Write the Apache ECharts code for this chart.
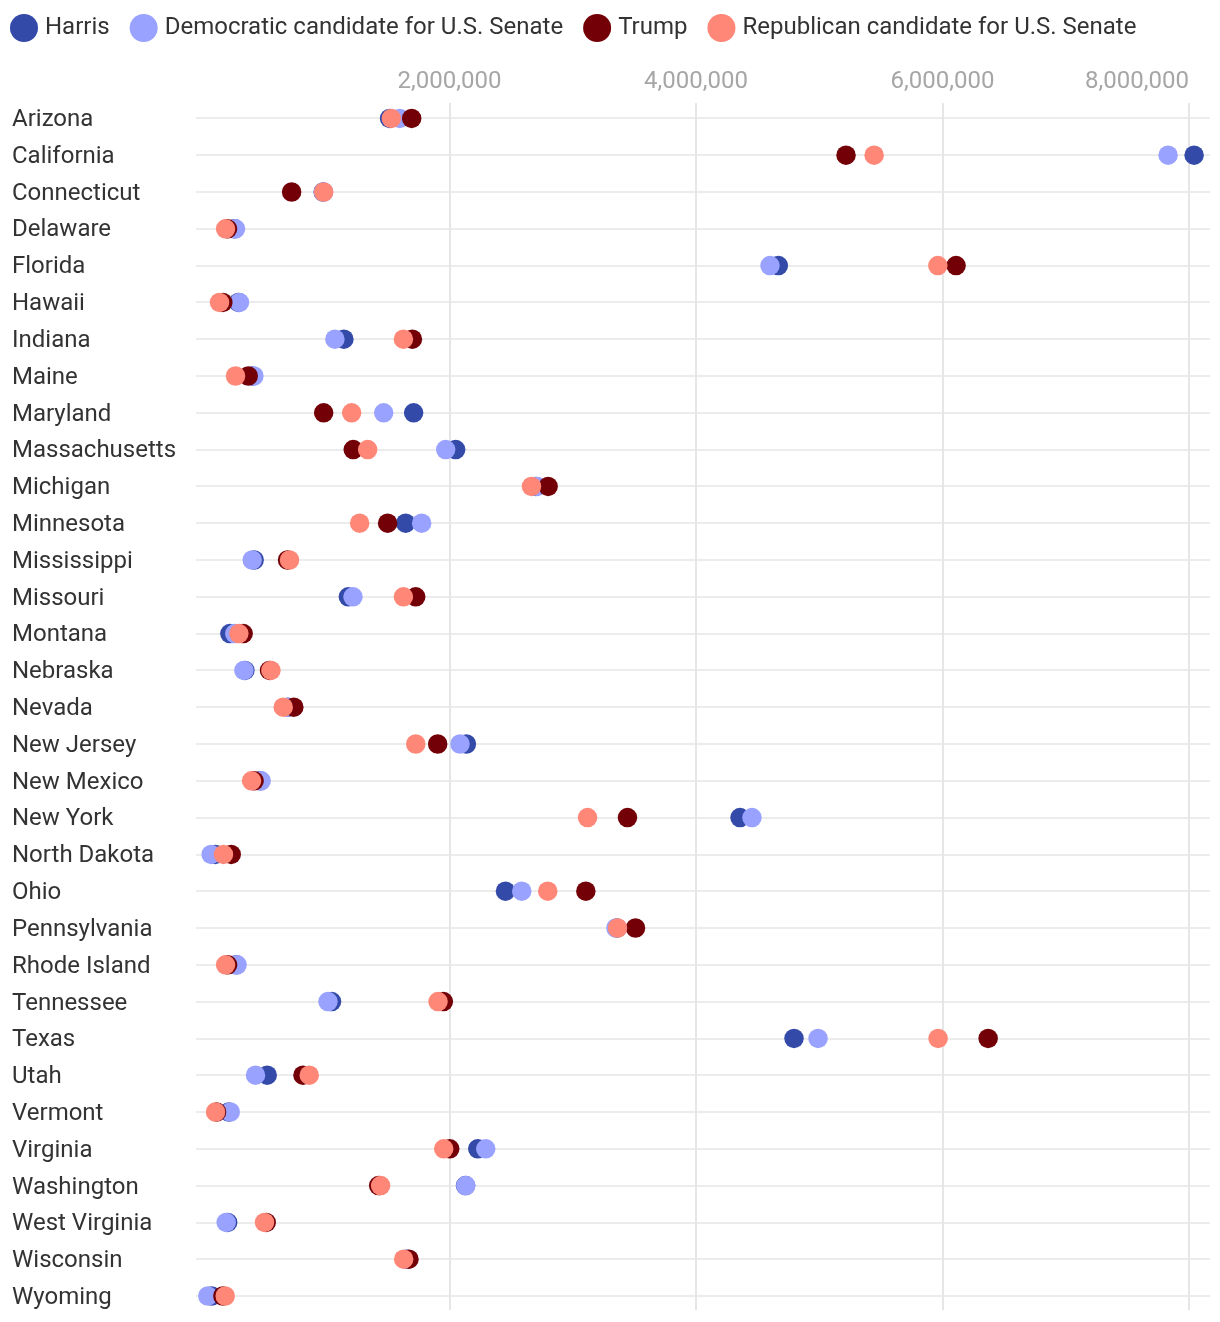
<!DOCTYPE html>
<html>
<head>
<meta charset="utf-8">
<script src="https://cdn.jsdelivr.net/npm/echarts@6/dist/echarts.min.js"></script>
<style>
html,body{margin:0;padding:0;background:#fff;}
#chart{width:1220px;height:1322px;}
</style>
</head>
<body>
<div id="chart"></div>
<script>
const states = ["Arizona","California","Connecticut","Delaware","Florida","Hawaii","Indiana","Maine","Maryland","Massachusetts","Michigan","Minnesota","Mississippi","Missouri","Montana","Nebraska","Nevada","New Jersey","New Mexico","New York","North Dakota","Ohio","Pennsylvania","Rhode Island","Tennessee","Texas","Utah","Vermont","Virginia","Washington","West Virginia","Wisconsin","Wyoming"];

const harris = [1514000,8041000,975000,256000,4668000,288000,1143000,400000,1709000,2050000,2700000,1644000,415000,1179000,218000,340000,690000,2137000,465000,4357000,100000,2454000,3360000,270000,1043000,4795000,521000,210000,2229000,2130000,200000,1650000,70000];
const demSenate = [1596000,7830000,978000,264000,4600000,296000,1070000,413000,1466000,1969000,2711000,1774000,399000,1217000,258000,332000,685000,2085000,472000,4454000,66000,2586000,3350000,277000,1014000,4990000,426000,221000,2294000,2132000,188000,1655000,39000];
const trump = [1693000,5217000,719000,199000,6110000,161000,1699000,367000,979000,1219000,2800000,1498000,686000,1726000,326000,540000,737000,1904000,415000,3444000,229000,3106000,3509000,200000,1950000,6370000,811000,110000,2002000,1425000,513000,1671000,161000];
const repSenate = [1528000,5445000,979000,183000,5962000,134000,1626000,264000,1206000,1336000,2665000,1271000,702000,1626000,291000,551000,651000,1726000,394000,3120000,166000,2797000,3363000,183000,1907000,5964000,862000,102000,1953000,1441000,499000,1628000,180000];

const seriesNames = ["Harris","Democratic candidate for U.S. Senate","Trump","Republican candidate for U.S. Senate"];
const seriesColors = ["#334aa9","#9aa2ff","#720006","#fe8777"];
const xTickInterval = 2000000;
const xMax = 8170000;
const lastTick = 8000000;

const chart = echarts.init(document.getElementById('chart'));
const font = 'Roboto';
const values = [harris, demSenate, trump, repSenate];

const option = {
  animation: false,
  backgroundColor: '#fff',
  textStyle: {fontFamily: font},
  legend: {
    left: 5, top: 9,
    icon: 'circle',
    itemWidth: 28, itemHeight: 28,
    itemGap: 20,
    data: seriesNames,
    textStyle: {fontFamily: font, fontSize: 24, color: '#333', padding: [0,0,0,2]}
  },
  grid: [
    {left: 196, right: 10, top: 118, height: 1178, outerBoundsMode: 'none'},
    {left: 203, right: 10, top: 100, height: 1214.4, outerBoundsMode: 'none'},
    {left: 203, right: 10, top: 103, height: 1207, outerBoundsMode: 'none'}
  ],
  xAxis: [
    {gridIndex: 0, type: 'value', min: 0, max: 1, show: false},
    {gridIndex: 1, type: 'value', min: 0, max: xMax, show: false},
    {gridIndex: 2, type: 'value', min: 0, max: xMax, interval: xTickInterval, position: 'top',
     axisLine: {show: false}, axisTick: {show: false},
     axisLabel: {fontFamily: font, fontSize: 24, color: '#a6a6a6', margin: 9, showMaxLabel: false, showMinLabel: false,
       formatter: v => v === 0 ? '' : (v === lastTick ? '{r|' + v.toLocaleString('en-US') + '}' : v.toLocaleString('en-US')),
       rich: {r: {fontFamily: font, fontSize: 24, color: '#a6a6a6', padding: [0, 104, 0, 0]}}
     },
     splitLine: {show: true, showMinLine: false, showMaxLine: false, lineStyle: {color: '#e6e6e6', width: 2}}
    }
  ],
  yAxis: [
    {gridIndex: 0, type: 'category', data: states, inverse: true, boundaryGap: false,
     axisLine: {show: false}, axisTick: {show: false},
     axisLabel: {interval: 0, align: 'left', margin: 184, fontFamily: font, fontSize: 24, color: '#333',
       formatter: v => '{s|' + v + '}',
       rich: {s: {fontFamily: font, fontSize: 24, color: '#333', padding: [4, 0, 0, 0]}}
     },
     splitLine: {show: true, interval: 0, lineStyle: {color: '#e6e6e6', width: 1.5}}
    },
    {gridIndex: 1, type: 'category', data: states, inverse: true, boundaryGap: true, show: false},
    {gridIndex: 2, type: 'value', show: false}
  ],
  series: seriesNames.map((name, k) => ({
    name: name,
    type: 'scatter',
    xAxisIndex: 1, yAxisIndex: 1,
    symbol: 'circle',
    symbolSize: 19.5,
    itemStyle: {color: seriesColors[k], opacity: 1},
    emphasis: {disabled: true},
    z: 10 + k,
    data: states.map((s, i) => [values[k][i], s])
  }))
};
chart.setOption(option);
</script>
</body>
</html>
